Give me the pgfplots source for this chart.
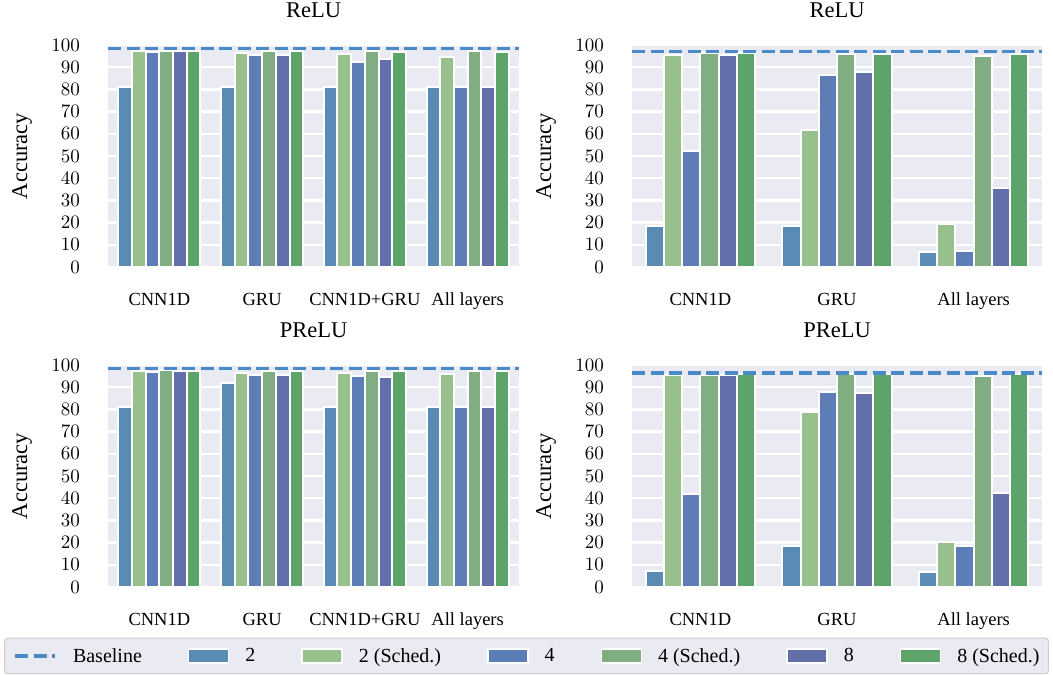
\documentclass[border=0pt]{standalone}
\usepackage{fontspec}
\setmainfont{Liberation Serif}
\newfontfamily\lmr{lmroman10-regular.otf}
\usepackage{pgfplots}
\pgfplotsset{compat=1.18}

\definecolor{bgc}{HTML}{EAEAF2}
\definecolor{c2}{HTML}{5A8BB5}
\definecolor{c2s}{HTML}{98C08C}
\definecolor{c4}{HTML}{5C7DB5}
\definecolor{c4s}{HTML}{81AD82}
\definecolor{c8}{HTML}{626FAA}
\definecolor{c8s}{HTML}{5CA46A}
\definecolor{cbase}{HTML}{4A8AC9}
\definecolor{lgborder}{HTML}{CCCCCC}

\pgfplotsset{
  panel/.style={
    scale only axis, height=222pt,
    ymin=0, ymax=100, ytick={0,10,...,100},
    axis background/.style={fill=bgc},
    axis line style={draw=none},
    major tick length=0pt,
    ymajorgrids, grid style={white, line width=2.5pt},
    ybar=0pt, bar width=0.1333,
    xtick={0,1,2,3},
    xticklabel style={font=\fontsize{18.5}{21}\selectfont, anchor=base, inner sep=0pt, yshift=-38.7pt},
    yticklabel style={font=\lmr\fontsize{19}{21}\selectfont, anchor=east, inner sep=0pt, xshift=-28pt,
      /pgf/number format/assume math mode=true},
    title style={at={(0.5,1)}, anchor=base, inner sep=0pt, yshift=21.7pt, font=\fontsize{22.5}{26}\selectfont},
    ylabel={Accuracy},
    ylabel style={at={(axis description cs:-0.197,0.5)}, anchor=base, inner sep=0pt, font=\fontsize{22.5}{26}\selectfont},
  },
  barimg/.style={legend image code/.code={\draw[##1, line width=1.5pt, sharp corners] (0pt,-7pt) rectangle (40pt,7pt);}},
  b2/.style={fill=c2, draw=white, line width=2pt, bar shift=-0.3333, barimg},
  b2s/.style={fill=c2s, draw=white, line width=2pt, bar shift=-0.2, barimg},
  b4/.style={fill=c4, draw=white, line width=2pt, bar shift=-0.0667, barimg},
  b4s/.style={fill=c4s, draw=white, line width=2pt, bar shift=0.0667, barimg},
  b8/.style={fill=c8, draw=white, line width=2pt, bar shift=0.2, barimg},
  b8s/.style={fill=c8s, draw=white, line width=2pt, bar shift=0.3333, barimg},
  baseln/.style={sharp plot, color=cbase, line width=3.5pt, dash pattern=on 13pt off 5.5pt,
    legend image code/.code={\draw[##1, sharp corners] (0pt,0pt) -- (40pt,0pt);}},
}

\begin{document}
\begin{tikzpicture}
\useasboundingbox (0,0) rectangle (1053pt,675pt);

% ---------- Top left: ReLU ----------
\begin{axis}[panel, width=411pt, at={(108pt,408pt)}, anchor=south west,
  xmin=-0.5, xmax=3.5, xticklabels={CNN1D,GRU,CNN1D+GRU,All layers}, title={ReLU}]
\addplot[b2]  coordinates {(0,81) (1,81) (2,81) (3,81)};
\addplot[b2s] coordinates {(0,97.5) (1,96.6) (2,96.0) (3,94.8)};
\addplot[b4]  coordinates {(0,96.7) (1,95.4) (2,92.5) (3,81)};
\addplot[b4s] coordinates {(0,97.2) (1,97.3) (2,97.2) (3,97.2)};
\addplot[b8]  coordinates {(0,97.5) (1,95.5) (2,93.9) (3,81)};
\addplot[b8s] coordinates {(0,97.5) (1,97.3) (2,97.0) (3,97.0)};
\addplot[baseln] coordinates {(-0.5,98.5) (3.5,98.5)};
\end{axis}

% ---------- Top right: ReLU ----------
\begin{axis}[panel, width=410pt, at={(632pt,408pt)}, anchor=south west,
  xmin=-0.5, xmax=2.5, xtick={0,1,2}, xticklabels={CNN1D,GRU,All layers}, title={ReLU}]
\addplot[b2]  coordinates {(0,18.4) (1,18.4) (2,6.9)};
\addplot[b2s] coordinates {(0,95.3) (1,61.9) (2,19.3)};
\addplot[b4]  coordinates {(0,52.4) (1,86.3) (2,7.1)};
\addplot[b4s] coordinates {(0,96.2) (1,96.1) (2,95.0)};
\addplot[b8]  coordinates {(0,95.6) (1,87.7) (2,35.4)};
\addplot[b8s] coordinates {(0,96.2) (1,95.9) (2,96.1)};
\addplot[baseln] coordinates {(-0.5,97) (2.5,97)};
\end{axis}

% ---------- Bottom left: PReLU ----------
\begin{axis}[panel, width=411pt, at={(108pt,88pt)}, anchor=south west,
  xmin=-0.5, xmax=3.5, xticklabels={CNN1D,GRU,CNN1D+GRU,All layers}, title={PReLU},
  legend columns=7,
  legend style={at={(1.01825,-0.3108)}, anchor=center,
    draw=lgborder, fill=bgc, rounded corners=3pt, line width=1pt,
    font=\fontsize{20}{22}\selectfont,
    inner xsep=9pt, inner ysep=10pt,
    nodes={inner sep=0pt},
    /tikz/every odd column/.append style={column sep=16pt},
    /tikz/every even column/.append style={column sep=46pt}},
  legend cell align=left]
\addlegendimage{baseln}
\addlegendentry{Baseline}
\addplot[b2]  coordinates {(0,81) (1,92) (2,81) (3,81)};
\addlegendentry{2}
\addplot[b2s] coordinates {(0,97.5) (1,96.6) (2,96.6) (3,96.1)};
\addlegendentry{2 (Sched.)}
\addplot[b4]  coordinates {(0,97.0) (1,95.4) (2,94.9) (3,81)};
\addlegendentry{4}
\addplot[b4s] coordinates {(0,97.6) (1,97.5) (2,97.5) (3,97.3)};
\addlegendentry{4 (Sched.)}
\addplot[b8]  coordinates {(0,97.3) (1,95.4) (2,94.5) (3,81)};
\addlegendentry{8}
\addplot[b8s] coordinates {(0,97.5) (1,97.3) (2,97.3) (3,97.5)};
\addlegendentry{8 (Sched.)}
\addplot[baseln, forget plot] coordinates {(-0.5,98.5) (3.5,98.5)};
\end{axis}

% ---------- Bottom right: PReLU ----------
\begin{axis}[panel, width=410pt, at={(632pt,88pt)}, anchor=south west,
  xmin=-0.5, xmax=2.5, xtick={0,1,2}, xticklabels={CNN1D,GRU,All layers}, title={PReLU}]
\addplot[b2]  coordinates {(0,7.1) (1,18.4) (2,6.9)};
\addplot[b2s] coordinates {(0,95.6) (1,78.9) (2,20.2)};
\addplot[b4]  coordinates {(0,41.7) (1,87.7) (2,18.4)};
\addplot[b4s] coordinates {(0,95.6) (1,95.9) (2,95.0)};
\addplot[b8]  coordinates {(0,95.6) (1,87.3) (2,42.2)};
\addplot[b8s] coordinates {(0,95.9) (1,95.9) (2,95.9)};
\addplot[baseln] coordinates {(-0.5,96.5) (2.5,96.5)};
\end{axis}
\end{tikzpicture}
\end{document}
